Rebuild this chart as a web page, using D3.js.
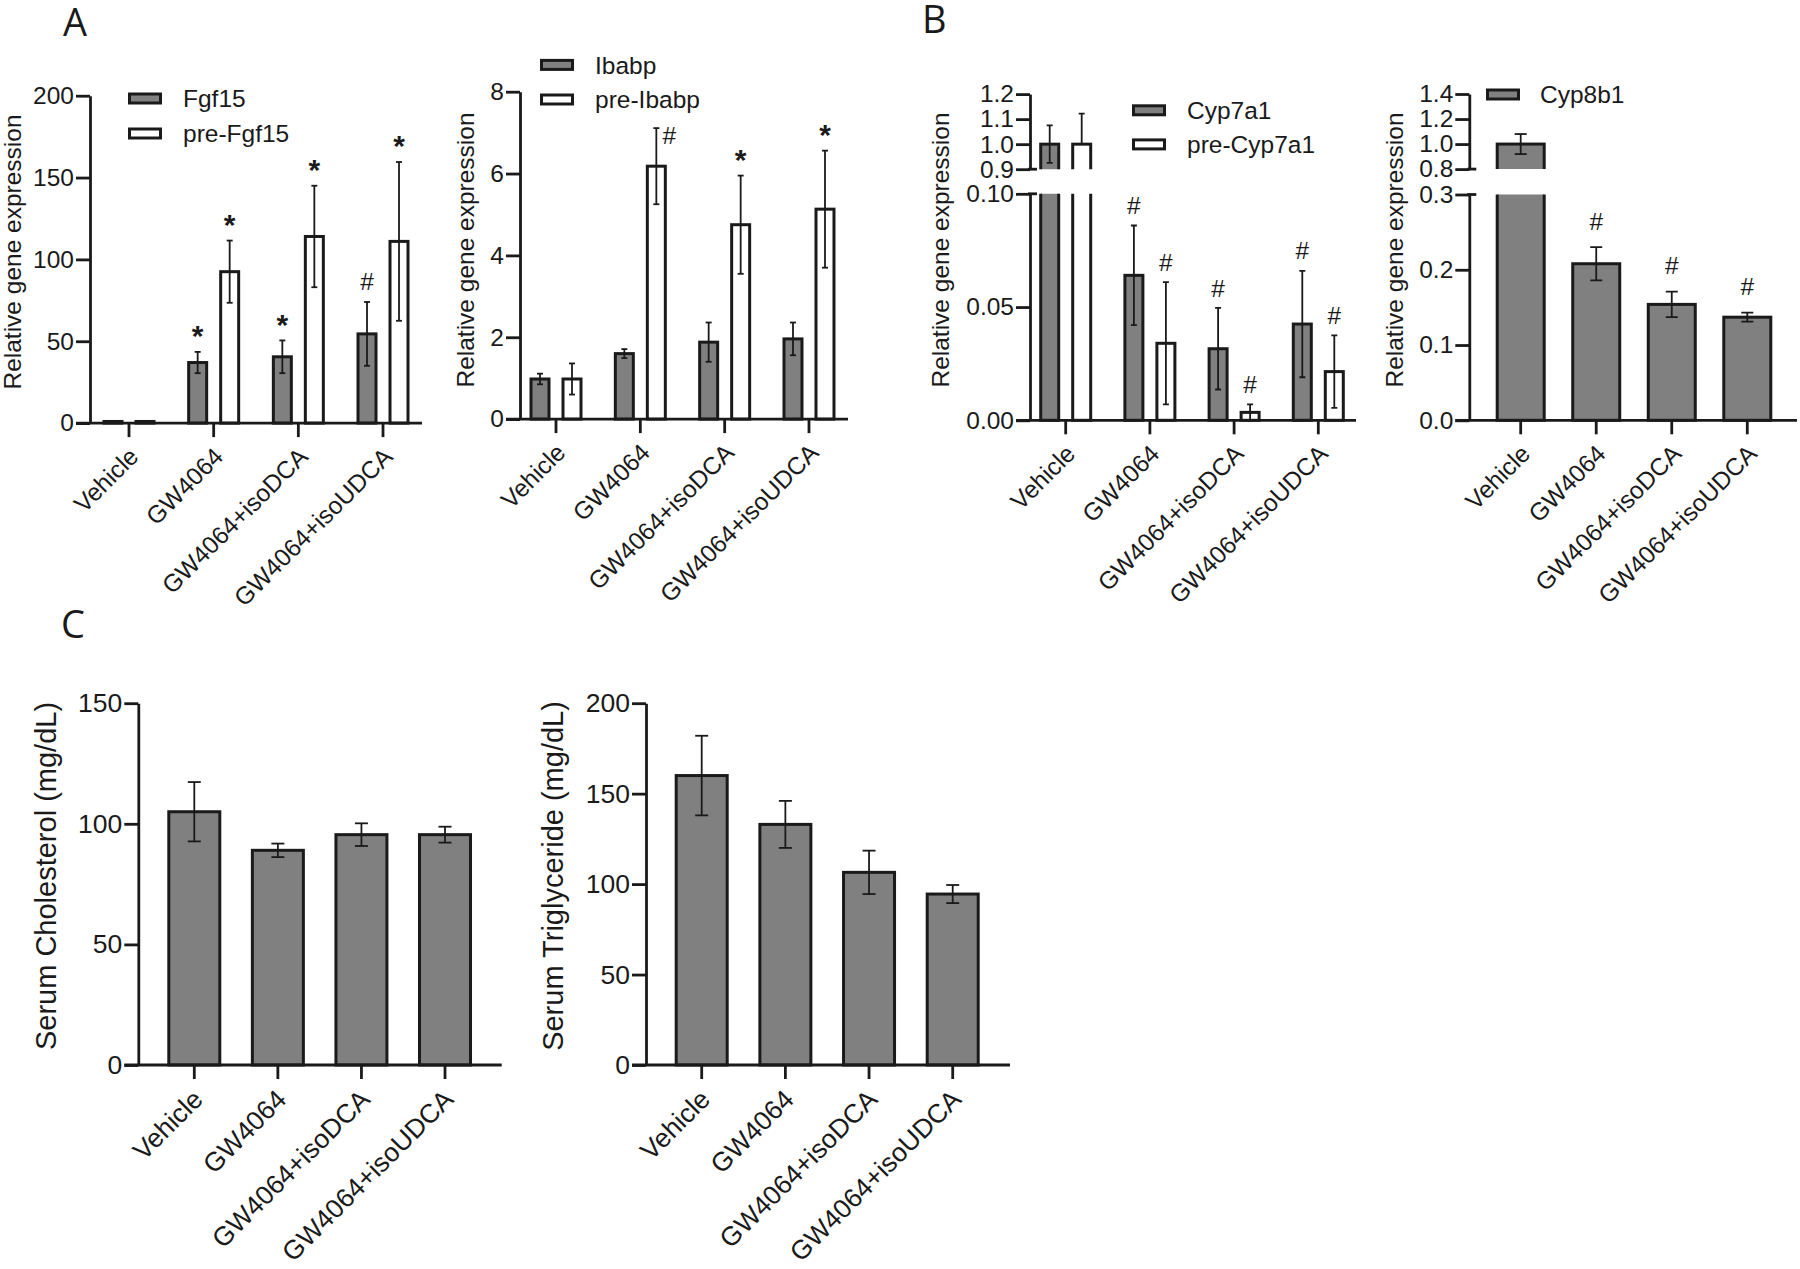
<!DOCTYPE html>
<html><head><meta charset="utf-8">
<script src="https://cdn.jsdelivr.net/npm/d3@7"></script>
<style>
body{margin:0;background:#fff;}
svg{display:block;background:#fff;}
text{font-family:"Liberation Sans",Arial,Helvetica,sans-serif;fill:#1a1a1a;}
.letter{font-family:"Open Sans","DejaVu Sans",sans-serif;}
</style></head><body>
<svg id="fig" width="1800" height="1269"></svg>
<script>
// ---------- DATA ----------
const groups = ["Vehicle", "GW4064", "GW4064+isoDCA", "GW4064+isoUDCA"];

// Panel A (left): Fgf15
const fgf15Mean = [1, 37, 40.5, 54.5];
const fgf15Err  = [0.3, 6.5, 10, 19.5];
const fgf15Sig  = ["", "*", "*", "#"];
const preFgf15Mean = [1, 92.5, 114, 111];
const preFgf15Err  = [0.3, 19, 31, 48.5];
const preFgf15Sig  = ["", "*", "*", "*"];
const fgf15Ticks = [0, 50, 100, 150, 200];

// Panel A (right): Ibabp
const ibabpMean = [0.98, 1.6, 1.88, 1.96];
const ibabpErr  = [0.13, 0.11, 0.48, 0.4];
const ibabpSig  = ["", "", "", ""];
const preIbabpMean = [0.98, 6.18, 4.75, 5.13];
const preIbabpErr  = [0.38, 0.93, 1.2, 1.43];
const preIbabpSig  = ["", "#", "*", "*"];
const ibabpTicks = [0, 2, 4, 6, 8];

// Panel B (left): Cyp7a1 (broken axis)
const cyp7a1Mean = [1.0, 0.064, 0.0316, 0.0425];
const cyp7a1Err  = [0.075, 0.022, 0.018, 0.0235];
const cyp7a1Sig  = ["", "#", "#", "#"];
const preCyp7a1Mean = [1.0, 0.034, 0.0035, 0.0215];
const preCyp7a1Err  = [0.122, 0.027, 0.0035, 0.016];
const preCyp7a1Sig  = ["", "#", "#", "#"];
const cyp7a1LowTicks  = [0, 0.05, 0.10];
const cyp7a1HighTicks = [0.9, 1.0, 1.1, 1.2];

// Panel B (right): Cyp8b1 (broken axis)
const cyp8b1Mean = [1.0, 0.208, 0.154, 0.137];
const cyp8b1Err  = [0.08, 0.022, 0.017, 0.006];
const cyp8b1Sig  = ["", "#", "#", "#"];
const cyp8b1LowTicks  = [0, 0.1, 0.2, 0.3];
const cyp8b1HighTicks = [0.8, 1.0, 1.2, 1.4];

// Panel C
const cholMean = [105, 89, 95.5, 95.5];
const cholErr  = [12.3, 2.8, 4.7, 3.3];
const cholTicks = [0, 50, 100, 150];
const tgMean = [160, 133, 106.5, 94.5];
const tgErr  = [22, 13, 12, 5];
const tgTicks = [0, 50, 100, 150, 200];

// ---------- STYLE / LAYOUT ----------
const GRAY = "#808080", WHITE = "#ffffff", INK = "#1a1a1a";
const none4 = ["", "", "", ""];

const panels = [
  { id: "aL", axisX: 90, tick0: 129, step: 84.67, xEnd: 422,
    segments: [{ domain: [0, 200], range: [423.1, 95.7], ticks: fgf15Ticks, fmt: d3.format("d") }],
    series: [{ name: "Fgf15", mean: fgf15Mean, err: fgf15Err, sig: fgf15Sig, fill: GRAY },
             { name: "pre-Fgf15", mean: preFgf15Mean, err: preFgf15Err, sig: preFgf15Sig, fill: WHITE }],
    offset: 16, barW: 18, cap: 6, font: 24.5, titleFont: 24.5, sigGap: 21, labDx: 11, labDy: 35,
    title: "Relative gene expression", titleX: 21, titleY: 252,
    legend: { x: 128, rows: [98.5, 133.5], textX: 183 } },
  { id: "aR", axisX: 520, tick0: 556, step: 84.33, xEnd: 848,
    segments: [{ domain: [0, 8], range: [419.1, 91.7], ticks: ibabpTicks, fmt: d3.format("d") }],
    series: [{ name: "Ibabp", mean: ibabpMean, err: ibabpErr, sig: ibabpSig, fill: GRAY },
             { name: "pre-Ibabp", mean: preIbabpMean, err: preIbabpErr, sig: preIbabpSig, fill: WHITE }],
    offset: 16, barW: 18, cap: 6, font: 24.5, titleFont: 24.5, sigGap: 21, labDx: 11, labDy: 35,
    nudge: { "pre-Ibabp:1": [13, 28] },
    title: "Relative gene expression", titleX: 474, titleY: 250,
    legend: { x: 540, rows: [64.9, 99.5], textX: 595 } },
  { id: "bL", axisX: 1030, tick0: 1065.7, step: 84.2, xEnd: 1356,
    segments: [{ domain: [0, 0.10], range: [420.3, 193.8], ticks: cyp7a1LowTicks, fmt: d3.format(".2f") },
               { domain: [0.9, 1.2], range: [169.2, 94.1], ticks: cyp7a1HighTicks, fmt: d3.format(".1f") }],
    series: [{ name: "Cyp7a1", mean: cyp7a1Mean, err: cyp7a1Err, sig: cyp7a1Sig, fill: GRAY },
             { name: "pre-Cyp7a1", mean: preCyp7a1Mean, err: preCyp7a1Err, sig: preCyp7a1Sig, fill: WHITE }],
    offset: 16, barW: 18, cap: 6, font: 24.5, titleFont: 24.5, sigGap: 20, labDx: 11, labDy: 35,
    title: "Relative gene expression", titleX: 949, titleY: 250,
    legend: { x: 1132, rows: [110.3, 144.4], textX: 1187 } },
  { id: "bR", axisX: 1469.3, tick0: 1520.7, step: 75.53, xEnd: 1797,
    segments: [{ domain: [0, 0.3], range: [420.3, 194.5], ticks: cyp8b1LowTicks, fmt: d3.format(".1f") },
               { domain: [0.8, 1.4], range: [169.1, 94], ticks: cyp8b1HighTicks, fmt: d3.format(".1f") }],
    series: [{ name: "Cyp8b1", mean: cyp8b1Mean, err: cyp8b1Err, sig: cyp8b1Sig, fill: GRAY }],
    offset: 0, barW: 47, cap: 12, font: 24.5, titleFont: 24.5, sigGap: 26, labDx: 11, labDy: 35,
    title: "Relative gene expression", titleX: 1403, titleY: 250,
    legend: { x: 1486, rows: [94.5], textX: 1540 } },
  { id: "cL", axisX: 138.3, tick0: 194.3, step: 83.57, xEnd: 501.7,
    segments: [{ domain: [0, 150], range: [1065, 703.2], ticks: cholTicks, fmt: d3.format("d") }],
    series: [{ name: "chol", mean: cholMean, err: cholErr, sig: none4, fill: GRAY }],
    offset: 0, barW: 51, cap: 13, font: 26.5, titleFont: 29, sigGap: 20, labDx: 10, labDy: 36,
    title: "Serum Cholesterol (mg/dL)", titleX: 56, titleY: 876, legend: null },
  { id: "cR", axisX: 646, tick0: 701.7, step: 83.67, xEnd: 1010,
    segments: [{ domain: [0, 200], range: [1065, 703.2], ticks: tgTicks, fmt: d3.format("d") }],
    series: [{ name: "tg", mean: tgMean, err: tgErr, sig: none4, fill: GRAY }],
    offset: 0, barW: 51, cap: 13, font: 26.5, titleFont: 29, sigGap: 20, labDx: 10, labDy: 36,
    title: "Serum Triglyceride (mg/dL)", titleX: 563, titleY: 876, legend: null }
];

const svg = d3.select("#fig");
const defs = svg.append("defs");
const AX_W = 2.8, BAR_W = 3, ERR_W = 1.8, TICK = 14;

function within(v, dom) { return v >= dom[0] - 1e-9 && v <= dom[1] + 1e-9; }

function drawPanel(p) {
  const g = svg.append("g").attr("id", p.id);
  const x = d3.scaleBand().domain(groups)
      .range([p.tick0 - p.step / 2, p.tick0 + 3.5 * p.step]);
  const inner = d3.scalePoint().domain(p.series.map(s => s.name)).range([-p.offset, p.offset]);
  const cx = (i, s) => x(groups[i]) + x.bandwidth() / 2 + inner(s.name);
  const segs = p.segments.map(sg => Object.assign({}, sg,
      { y: d3.scaleLinear().domain(sg.domain).range(sg.range) }));
  const y0 = segs[0].y(0);

  segs.forEach((sg, si) => {
    const layer = g.append("g");
    if (segs.length > 1) {
      const id = `clip-${p.id}-${si}`;
      const top = si === segs.length - 1 ? 0 : sg.range[1];
      const bottom = si === 0 ? y0 + 10 : sg.range[0];
      defs.append("clipPath").attr("id", id).append("rect")
        .attr("x", 0).attr("y", top).attr("width", 1800).attr("height", bottom - top);
      layer.attr("clip-path", `url(#${id})`);
    }
    p.series.forEach(s => {
      layer.append("g").selectAll("rect").data(s.mean).join("rect")
        .attr("x", (d, i) => cx(i, s) - p.barW / 2)
        .attr("width", p.barW)
        .attr("y", d => sg.y(d))
        .attr("height", d => Math.max(0, sg.y(0) - sg.y(d)))
        .attr("fill", s.fill).attr("stroke", INK).attr("stroke-width", BAR_W);
    });
    // error bars (a half is drawn only when it stays inside this axis segment)
    p.series.forEach(s => {
      s.mean.forEach((m, i) => {
        const e = s.err[i];
        if (!within(m, sg.domain)) return;
        [m + e, m - e].forEach(end => {
          if (!within(end, sg.domain)) return;
          const xc = cx(i, s);
          layer.append("line").attr("x1", xc).attr("x2", xc)
            .attr("y1", sg.y(m)).attr("y2", sg.y(end))
            .attr("stroke", INK).attr("stroke-width", ERR_W);
          layer.append("line").attr("x1", xc - p.cap / 2).attr("x2", xc + p.cap / 2)
            .attr("y1", sg.y(end)).attr("y2", sg.y(end))
            .attr("stroke", INK).attr("stroke-width", ERR_W);
        });
      });
    });
    // y axis for this segment
    const ax = g.append("g").attr("transform", `translate(${p.axisX},0)`)
      .call(d3.axisLeft(sg.y).tickValues(sg.ticks).tickFormat(sg.fmt)
        .tickSize(TICK).tickSizeOuter(0).tickPadding(2));
    ax.attr("font-size", null).attr("font-family", null);
    ax.selectAll("path,line").attr("stroke", INK).attr("stroke-width", AX_W);
    ax.selectAll("text").attr("font-size", p.font).attr("fill", INK);
    if (segs.length > 1) {
      const capY = si === 0 ? sg.y(sg.domain[1]) : sg.y(sg.domain[0]);
      g.append("line").attr("x1", p.axisX - 2).attr("x2", p.axisX + 7)
        .attr("y1", capY).attr("y2", capY).attr("stroke", INK).attr("stroke-width", AX_W);
    }
  });

  // significance markers
  p.series.forEach(s => {
    s.sig.forEach((mk, i) => {
      if (!mk) return;
      const top = s.mean[i] + s.err[i];
      const sg = segs.find(q => within(top, q.domain)) || segs[0];
      const nd = (p.nudge && p.nudge[`${s.name}:${i}`]) || [0, 0];
      const yc = sg.y(top) - p.sigGap + nd[1];
      const star = mk === "*";
      g.append("text").attr("x", cx(i, s) + nd[0]).attr("y", yc + (star ? 15.5 : 8.6))
        .attr("text-anchor", "middle")
        .attr("font-size", star ? 30 : p.font)
        .attr("font-weight", star ? "bold" : "normal")
        .text(mk);
    });
  });

  // x axis
  g.append("line").attr("x1", p.axisX - TICK).attr("x2", p.xEnd)
    .attr("y1", y0).attr("y2", y0).attr("stroke", INK).attr("stroke-width", AX_W);
  const xa = g.append("g").attr("transform", `translate(0,${y0})`)
    .call(d3.axisBottom(x).tickSize(TICK).tickSizeOuter(0));
  xa.attr("font-size", null).attr("font-family", null);
  xa.select(".domain").remove();
  xa.selectAll("line").attr("stroke", INK).attr("stroke-width", AX_W);
  xa.selectAll("text").attr("x", 0).attr("y", 0).attr("dy", null)
    .attr("text-anchor", "end").attr("font-size", p.font).attr("fill", INK)
    .attr("transform", `translate(${p.labDx},${p.labDy}) rotate(-45)`);

  // y title
  g.append("text").attr("transform", `translate(${p.titleX},${p.titleY}) rotate(-90)`)
    .attr("text-anchor", "middle").attr("font-size", p.titleFont).text(p.title);

  // legend
  if (p.legend) {
    p.series.forEach((s, k) => {
      const ry = p.legend.rows[k];
      g.append("rect").attr("x", p.legend.x + 1.5).attr("y", ry - 4.5)
        .attr("width", 31).attr("height", 9)
        .attr("fill", s.fill).attr("stroke", INK).attr("stroke-width", BAR_W);
      g.append("text").attr("x", p.legend.textX).attr("y", ry + 8.6)
        .attr("font-size", p.font).text(s.name);
    });
  }
}

panels.forEach(drawPanel);

// panel letters
const letters = [{ t: "A", x: 63, y: 36 }, { t: "B", x: 922, y: 33 }, { t: "C", x: 61, y: 638 }];
svg.selectAll("text.letter").data(letters).join("text").attr("class", "letter")
  .attr("x", d => d.x).attr("y", d => d.y).attr("font-size", 38).text(d => d.t);
</script>
</body></html>
